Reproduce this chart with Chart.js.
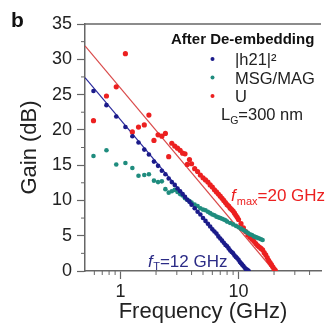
<!DOCTYPE html>
<html>
<head>
<meta charset="utf-8">
<script src="https://cdn.jsdelivr.net/npm/chart.js@4.4.0/dist/chart.umd.min.js"></script>
<style>
  body { margin: 0; background: #fff; }
  #wrap { width: 325px; height: 325px; }
</style>
</head>
<body>
<div id="wrap"><canvas id="gainChart" width="325" height="325"></canvas></div>
<script>
// values: frequency in GHz, gain in dB
const h21Freq = [0.59, 0.76, 0.92, 1.1, 1.26, 1.42, 1.59, 1.74, 1.92, 2.08, 2.24, 2.4, 2.56, 2.72, 2.88, 3.04, 3.2, 3.36, 3.52, 3.68, 3.84, 4.0,
  4.25, 4.5, 4.75, 5.0, 5.25, 5.5, 5.75, 6.0, 6.25, 6.5, 6.75, 7.0, 7.25, 7.5, 7.75, 8.0, 8.25, 8.5, 8.75, 9.0, 9.25, 9.5, 9.75, 10.0,
  10.25, 10.5, 10.75, 11.0, 11.25, 11.5, 11.75, 12.0, 12.2];
const h21Gain = [25.5, 23.5, 21.9, 20.4, 19.1, 18.2, 17.2, 16.5, 15.5, 14.9, 14.2, 13.7, 13.1, 12.6, 12.2, 11.7, 11.3, 10.9, 10.5, 10.1, 9.8, 9.4,
  8.9, 8.4, 8.0, 7.5, 7.1, 6.7, 6.3, 5.9, 5.6, 5.3, 4.9, 4.6, 4.3, 4.0, 3.7, 3.5, 3.2, 2.9, 2.7, 2.5, 2.2, 2.0, 1.8, 1.6,
  1.3, 1.1, 0.9, 0.7, 0.5, 0.3, 0.2, 0.1, 0.0];

const msgFreq = [0.59, 0.76, 0.92, 1.1, 1.26, 1.42, 1.59, 1.74, 1.92, 2.08, 2.24, 2.4, 2.56, 2.72, 2.88, 3.04, 3.2, 3.36, 3.52, 3.68, 3.84, 4.0,
  4.25, 4.5, 4.75, 5.0, 5.25, 5.5, 5.75, 6.0, 6.25, 6.5, 6.75, 7.0, 7.25, 7.5, 7.75, 8.0, 8.5, 9.0, 9.5, 10.0, 10.5, 11.0, 11.5, 12.0,
  12.5, 13.0, 13.5, 14.0, 14.5, 15.0, 15.5, 16.0];
const msgGain = [16.3, 17.1, 15.1, 15.3, 14.6, 13.5, 13.6, 13.7, 12.8, 12.6, 12.7, 11.6, 11.1, 11.3, 11.5, 11.2, 10.9, 10.7, 10.3, 10.1, 9.9, 9.7,
  9.4, 9.2, 8.9, 8.7, 8.6, 8.4, 8.2, 8.0, 7.9, 7.7, 7.6, 7.5, 7.4, 7.3, 7.2, 7.0, 6.8, 6.6, 6.4, 6.2, 6.0, 5.8, 5.6, 5.4,
  5.2, 5.1, 4.9, 4.8, 4.7, 4.6, 4.5, 4.4];

const uFreq = [0.59, 0.76, 0.92, 1.1, 1.26, 1.42, 1.59, 1.74, 1.92, 2.08, 2.24, 2.4, 2.56, 2.72, 2.88, 3.04, 3.2, 3.36, 3.52, 3.68, 3.84, 4.0,
  4.25, 4.5, 4.75, 5.0, 5.25, 5.5, 5.75, 6.0, 6.25, 6.5, 6.75, 7.0, 7.25, 7.5, 7.75, 8.0, 8.25, 8.5, 8.75, 9.0, 9.25, 9.5, 9.75, 10.0,
  10.5, 11.0, 11.5, 12.0, 12.5, 13.0, 13.5, 14.0, 14.5, 15.0, 15.5, 16.0, 16.5, 17.0, 17.5, 18.0, 18.5, 19.0, 19.5, 20.0, 20.5];
const uGain = [21.3, 24.8, 26.1, 30.8, 19.7, 20.4, 20.7, 22.1, 18.5, 19.3, 19.1, 19.5, 16.2, 18.1, 17.7, 17.4, 17.1, 16.7, 16.6, 15.1, 15.8, 15.2,
  14.5, 14.1, 13.6, 13.2, 12.9, 12.6, 12.2, 11.9, 11.5, 11.2, 10.9, 10.6, 10.3, 10.0, 9.7, 9.4, 9.2, 8.9, 8.7, 8.5, 8.2, 7.9, 7.6, 7.3,
  6.7, 6.1, 5.6, 5.1, 4.8, 4.5, 4.2, 3.9, 3.6, 3.4, 3.2, 3.0, 2.6, 2.3, 1.9, 1.5, 1.2, 0.9, 0.6, 0.3, 0.1];

// -20 dB/decade guide lines, end points
const ftLineFreq = [0.5, 12];
const ftLineGain = [27.4, 0];
const fmaxLineFreq = [0.5, 20];
const fmaxLineGain = [31.9, 0];

const xMajorTicks = [1, 10];
const xMinorTicks = [0.6, 0.7, 0.8, 0.9, 2, 3, 4, 5, 6, 7, 8, 9, 20, 30, 40];
const yMajorTicks = [0, 5, 10, 15, 20, 25, 30, 35];
const yMinorTicks = [2.5, 7.5, 12.5, 17.5, 22.5, 27.5, 32.5];

const family = '"Liberation Sans", Arial, sans-serif';
const axisColor = '#666';
const navy = '#1b1b8a';
const teal = '#1f8c7e';
const red = '#ec2020';

const pts = (xs, ys) => xs.map((x, i) => ({ x: x, y: ys[i] }));

function txt(ctx, s, x, y, size, color, style) {
  ctx.font = (style || '') + ' ' + size + 'px ' + family;
  ctx.fillStyle = color;
  ctx.fillText(s, x, y);
  return x + ctx.measureText(s).width;
}

const extras = {
  id: 'extras',
  afterDraw(chart) {
    const { ctx, chartArea: a, scales: { x, y } } = chart;
    ctx.save();
    // top frame
    ctx.strokeStyle = axisColor;
    ctx.lineWidth = 1.5;
    ctx.beginPath();
    ctx.moveTo(a.left, a.top);
    ctx.lineTo(a.right, a.top);
    ctx.stroke();
    // minor ticks
    ctx.lineWidth = 1;
    ctx.beginPath();
    xMinorTicks.forEach(v => {
      const p = x.getPixelForValue(v);
      ctx.moveTo(p, a.bottom);
      ctx.lineTo(p, a.bottom + 4);
    });
    yMinorTicks.forEach(v => {
      const p = y.getPixelForValue(v);
      ctx.moveTo(a.left - 4, p);
      ctx.lineTo(a.left, p);
    });
    ctx.stroke();

    ctx.textBaseline = 'alphabetic';
    txt(ctx, 'b', 11, 27, 21, '#111', 'bold');

    // legend
    txt(ctx, 'After De-embedding', 171, 44, 15, '#111', 'bold');
    const items = [['|h21|²', navy], ['MSG/MAG', teal], ['U', red]];
    items.forEach((it, i) => {
      const base = 65 + i * 18.5;
      ctx.fillStyle = it[1];
      ctx.beginPath();
      ctx.arc(212.5, base - 6, 2, 0, Math.PI * 2);
      ctx.fill();
      txt(ctx, it[0], 235, base, 16.5, '#222');
    });
    let cx = txt(ctx, 'L', 221, 120, 16.5, '#222');
    cx = txt(ctx, 'G', cx, 124, 10.5, '#222');
    txt(ctx, '=300 nm', cx, 120, 16.5, '#222');

    // annotations
    cx = txt(ctx, 'f', 231, 201, 17, red, 'italic');
    cx = txt(ctx, 'max', cx + 1, 205, 11, red);
    txt(ctx, '=20 GHz', cx, 201, 17, red);

    cx = txt(ctx, 'f', 148, 266.5, 17, '#2b2b86', 'italic');
    cx = txt(ctx, 'T', cx + 0.5, 270, 11, '#2b2b86');
    txt(ctx, '=12 GHz', cx, 266.5, 17, '#2b2b86');
    ctx.restore();
  }
};

new Chart(document.getElementById('gainChart').getContext('2d'), {
  type: 'scatter',
  data: {
    datasets: [
      { label: '|h21|²', data: pts(h21Freq, h21Gain), backgroundColor: navy, pointRadius: 2.3, borderWidth: 0 },
      { label: 'MSG/MAG', data: pts(msgFreq, msgGain), backgroundColor: teal, pointRadius: 2.3, borderWidth: 0 },
      { label: 'U', data: pts(uFreq, uGain), backgroundColor: red, pointRadius: 2.6, borderWidth: 0 },
      { label: 'fT fit', data: pts(ftLineFreq, ftLineGain), showLine: true, pointRadius: 0, borderColor: '#2a2a9c', borderWidth: 1.2 },
      { label: 'fmax fit', data: pts(fmaxLineFreq, fmaxLineGain), showLine: true, pointRadius: 0, borderColor: '#d94a4a', borderWidth: 1.2 }
    ]
  },
  options: {
    responsive: false,
    animation: false,
    layout: { padding: { top: 24, right: 0, bottom: 0, left: 0 } },
    plugins: { legend: { display: false }, tooltip: { enabled: false } },
    scales: {
      x: {
        type: 'logarithmic',
        min: 0.5,
        max: 50,
        afterBuildTicks: s => { s.ticks = xMajorTicks.map(v => ({ value: v })); },
        afterFit: s => { s.height = 54; },
        ticks: { callback: v => String(v), font: { family: family, size: 18 }, color: '#222', padding: 2, maxRotation: 0, autoSkip: false },
        grid: { drawOnChartArea: false, tickLength: 8, tickColor: axisColor, tickWidth: 1.2 },
        border: { color: axisColor, width: 1.5 },
        title: { display: true, text: 'Frequency (GHz)', color: '#222', font: { family: family, size: 22, lineHeight: 1 }, padding: { top: 0, bottom: 2 } }
      },
      y: {
        min: 0,
        max: 35,
        afterBuildTicks: s => { s.ticks = yMajorTicks.map(v => ({ value: v })); },
        afterFit: s => { s.width = 85; },
        ticks: { font: { family: family, size: 18 }, color: '#222', padding: 5 },
        grid: { drawOnChartArea: false, tickLength: 8, tickColor: axisColor, tickWidth: 1.2 },
        border: { color: axisColor, width: 1.5 },
        title: { display: true, text: 'Gain (dB)', color: '#222', font: { family: family, size: 22, lineHeight: 1 }, padding: { top: 19, bottom: 0 } }
      }
    }
  },
  plugins: [extras]
});
</script>
</body>
</html>
